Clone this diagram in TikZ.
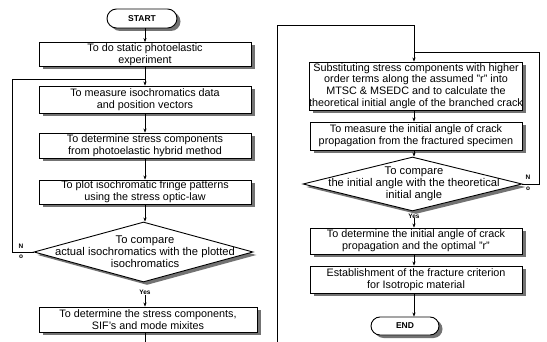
\documentclass[tikz,border=0pt]{standalone}
\usepackage{fontspec}
\setmainfont{Liberation Sans}
\usetikzlibrary{shapes.geometric,shapes.misc,arrows.meta,shadows}
\begin{document}
\begin{tikzpicture}[x=1pt,y=-1pt,
  sh/.style={drop shadow={shadow xshift=3.5pt,shadow yshift=-3pt,opacity=1,fill=black!55}},
  box/.style={draw,line width=0.9pt,fill=white,sh,inner sep=0pt,align=center,
    font=\fontsize{10.8}{11.8}\selectfont},
  term/.style={draw,line width=0.9pt,fill=white,sh,rounded rectangle,inner sep=0pt,
    font=\bfseries\fontsize{8.5}{10}\selectfont},
  decision/.style={draw,line width=0.9pt,fill=white,sh,diamond,inner sep=0pt},
  dtext/.style={align=center,font=\fontsize{11.2}{12}\selectfont,inner sep=0pt},
  lbl/.style={font=\bfseries\fontsize{6.5}{7}\selectfont,inner sep=0pt},
  flow/.style={line width=0.6pt},
  arr/.style={line width=0.6pt,-{Stealth[length=4pt,width=3.2pt]}}]
\useasboundingbox (0,0) rectangle (547,342);
\fill[white] (0,0) rectangle (547,342);
% left column
\node[term,minimum width=70pt,minimum height=19pt] (start) at (142,18.5) {START};
\node[box,minimum width=212pt,minimum height=24pt] (b1) at (145,54.5) {To do static photoelastic\\experiment};
\node[box,minimum width=212pt,minimum height=27pt] (b2) at (145,99.5) {To measure isochromatics data\\and position vectors};
\node[box,minimum width=212pt,minimum height=25pt] (b3) at (145,145.5) {To determine stress components\\from photoelastic hybrid method};
\node[box,minimum width=212pt,minimum height=24pt] (b4) at (145,192) {To plot isochromatic fringe patterns\\using the stress optic-law};
\node[decision,minimum width=219pt,minimum height=60pt] (d1) at (143.5,252) {};
\node[dtext] (d1t) at (145,252) {To compare\\actual isochromatics with the plotted\\isochromatics};
\node[lbl] (y1) at (145,292.5) {Yes};
\node[box,minimum width=218pt,minimum height=25pt] (b5) at (148,319.5) {To determine the stress components,\\SIF's and mode mixites};
\node[lbl] (n1) at (21,246) {N};
\node[lbl] (o1) at (21,257) {o};
\coordinate (l1) at (12,252);
\coordinate (l2) at (12,79);
\coordinate (l3) at (145,79);
\coordinate (lend) at (145,342);
% right column
\node[box,minimum width=212pt,minimum height=48pt] (r1) at (416,86) {Substituting stress components with higher\\order terms along the assumed "r" into\\MTSC \& MSEDC and to calculate the\\theoretical initial angle of the branched crack};
\node[box,minimum width=212pt,minimum height=28pt] (r2) at (416,136) {To measure the initial angle of crack\\propagation from the fractured specimen};
\node[decision,minimum width=219pt,minimum height=54pt] (d2) at (412.5,184) {};
\node[dtext] (d2t) at (414,184) {To compare\\the initial angle with the theoretical\\initial angle};
\node[lbl] (y2) at (414,216) {Yes};
\node[box,minimum width=212pt,minimum height=26pt] (r3) at (416,241) {To determine the initial angle of crack\\propagation and the optimal "r"};
\node[box,minimum width=212pt,minimum height=27pt] (r4) at (416,279.5) {Establishment of the fracture criterion\\for Isotropic material};
\node[term,minimum width=68pt,minimum height=18pt] (end) at (405,326) {END};
\node[lbl] (n2) at (528,177) {N};
\node[lbl] (o2) at (528,189) {o};
\coordinate (c0) at (277,342);
\coordinate (c1) at (277,25);
\coordinate (c2) at (414,25);
\coordinate (q1) at (539,184);
\coordinate (q2) at (539,52);
\coordinate (q3) at (414,52);
% connectors left
\draw[arr] (start.south -| l3) -- (b1.north -| l3);
\draw[arr] (b1.south -| l3) -- (b2.north -| l3);
\draw[flow] (d1.west) -- (l1) -- (l2) -- (l3);
\draw[arr] (b2.south -| l3) -- (b3.north -| l3);
\draw[arr] (b3.south -| l3) -- (b4.north -| l3);
\draw[arr] (b4.south -| l3) -- (d1.north -| l3);
\draw[arr] (y1.south) -- (b5.north -| y1);
\draw[flow] (b5.south -| lend) -- (lend);
% connectors right
\draw[arr] (c0) -- (c1) -- (c2) -- (r1.north -| c2);
\draw[flow] (d2.east) -- (q1) -- (q2) -- (q3);
\draw[arr] (r1.south -| c2) -- (r2.north -| c2);
\draw[arr] (r2.south -| c2) -- (d2.north -| c2);
\draw[arr] (y2.south) -- (r3.north -| y2);
\draw[arr] (r3.south -| c2) -- (r4.north -| c2);
\draw[arr] (r4.south -| c2) -- (end.north -| c2);
\end{tikzpicture}
\end{document}
